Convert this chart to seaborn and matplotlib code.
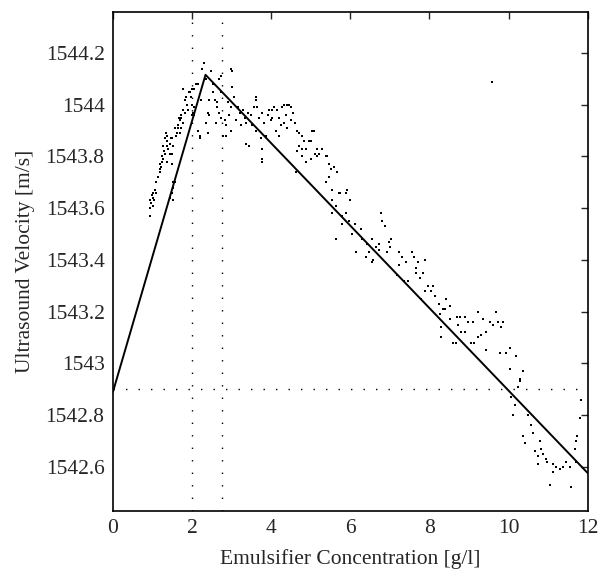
#!/usr/bin/env python

import numpy as np
import pandas as pd
import seaborn as sns
import matplotlib
matplotlib.use('Agg')
import matplotlib.pyplot as plt

rise_x = [0.93, 0.93, 0.94, 0.97, 0.98, 1.00, 1.00, 1.01, 1.03, 1.05, 1.10, 1.10, 1.13, 1.18, 1.18, 1.18,
          1.21, 1.23, 1.23, 1.26, 1.26, 1.29, 1.31, 1.31, 1.33, 1.36, 1.36, 1.36, 1.36, 1.39, 1.43, 1.43,
          1.43, 1.46, 1.48, 1.48, 1.48, 1.48, 1.51, 1.51, 1.51, 1.53, 1.56, 1.56, 1.59, 1.61, 1.64, 1.64,
          1.67, 1.69, 1.69, 1.73, 1.73, 1.73, 1.77, 1.77, 1.77, 1.81, 1.81, 1.85, 1.86, 1.89, 1.92, 1.94,
          1.97, 1.99, 1.99, 1.99, 2.03, 2.06, 2.06, 2.06, 2.11, 2.15, 2.15, 2.19, 2.19, 2.24, 2.22]
rise_y = [1543.57, 1543.60, 1543.63, 1543.62, 1543.65, 1543.64, 1543.61, 1543.66, 1543.63, 1543.67,
          1543.70, 1543.66, 1543.72, 1543.74, 1543.77, 1543.75, 1543.76, 1543.78, 1543.80, 1543.79,
          1543.84, 1543.82, 1543.81, 1543.87, 1543.89, 1543.78, 1543.84, 1543.86, 1543.88, 1543.83,
          1543.81, 1543.85, 1543.64, 1543.87, 1543.66, 1543.77, 1543.81, 1543.87, 1543.84, 1543.63,
          1543.68, 1543.70, 1543.70, 1543.91, 1543.88, 1543.89, 1543.91, 1543.92, 1543.95, 1543.94,
          1543.89, 1543.91, 1543.95, 1543.96, 1543.93, 1543.98, 1544.06, 1544.02, 1543.97, 1544.03,
          1544.00, 1543.98, 1544.05, 1544.05, 1544.03, 1544.06, 1544.00, 1543.96, 1543.97, 1544.06,
          1543.99, 1543.96, 1544.08, 1544.08, 1543.90, 1543.88, 1543.87, 1544.14, 1544.02]

peak_x = [2.31, 2.34, 2.36, 2.39, 2.39, 2.42, 2.44, 2.49, 2.52, 2.52, 2.57, 2.60, 2.62, 2.64, 2.69, 2.69,
          2.72, 2.74, 2.74, 2.77, 2.82, 2.86, 2.86, 2.90, 2.94, 2.99, 2.99, 2.99, 3.02, 3.02, 3.07, 3.12,
          3.15, 3.20, 3.24, 3.28, 3.33, 3.37, 3.37, 3.42, 3.45, 3.50, 3.52, 3.57, 3.62, 3.62, 3.62, 3.65,
          3.70, 3.75, 3.77, 3.77, 3.77, 3.77, 3.82, 3.87, 3.92, 3.95, 4.00, 4.03, 4.03, 4.08, 4.12, 4.15,
          4.20, 4.20, 4.25, 4.28, 4.33, 4.33, 4.37, 4.40, 4.40, 4.45, 4.50, 4.50, 4.55, 4.60, 4.63, 4.65,
          4.65, 4.70, 4.70, 9.58]
peak_y = [1544.16, 1544.10, 1543.93, 1543.97, 1543.89, 1544.02, 1543.96, 1544.13, 1544.05, 1544.08,
          1544.02, 1543.93, 1543.99, 1544.01, 1544.10, 1543.97, 1543.95, 1544.05, 1544.11, 1543.88,
          1543.94, 1543.92, 1543.88, 1544.01, 1543.96, 1543.99, 1543.90, 1544.14, 1544.07, 1544.13,
          1544.03, 1543.94, 1543.99, 1543.97, 1543.92, 1543.98, 1543.95, 1543.93, 1543.85, 1543.97,
          1543.84, 1543.96, 1543.92, 1543.99, 1544.02, 1544.03, 1543.90, 1543.99, 1543.95, 1543.87,
          1543.97, 1543.83, 1543.78, 1543.79, 1543.93, 1543.88, 1543.96, 1543.98, 1543.94, 1543.95,
          1543.98, 1543.99, 1543.90, 1543.98, 1543.95, 1543.88, 1543.92, 1543.99, 1544.00, 1543.93,
          1543.96, 1544.00, 1543.91, 1544.00, 1543.94, 1543.99, 1543.97, 1543.93, 1543.74, 1543.90,
          1543.82, 1543.89, 1543.84, 1544.09]

slope_x = [4.78, 4.78, 4.78, 4.83, 4.88, 4.88, 4.96, 5.00, 5.00, 5.03, 5.08, 5.12, 5.16, 5.16, 5.20, 5.29,
           5.38, 5.38, 5.41, 5.46, 5.46, 5.50, 5.54, 5.54, 5.54, 5.59, 5.63, 5.63, 5.66, 5.71, 5.75, 5.79,
           5.79, 5.88, 5.88, 5.91, 5.97, 6.00, 6.04, 6.13, 6.14, 6.26, 6.29, 6.39, 6.42, 6.47, 6.54, 6.54,
           6.58, 6.64, 6.72, 6.72, 6.77, 6.80, 6.89, 6.92, 6.97, 7.00, 7.04, 7.17, 7.22, 7.22, 7.30, 7.35,
           7.40, 7.47, 7.55, 7.60, 7.65, 7.65, 7.72, 7.77, 7.80, 7.85, 7.90, 7.90, 7.97, 8.05, 8.10, 8.15,
           8.23, 8.28, 8.30, 8.30, 8.35, 8.40, 8.43]
slope_y = [1543.88, 1543.80, 1543.83, 1543.86, 1543.83, 1543.78, 1543.86, 1543.79, 1543.86, 1543.90,
           1543.90, 1543.81, 1543.83, 1543.80, 1543.81, 1543.83, 1543.80, 1543.70, 1543.80, 1543.77,
           1543.72, 1543.75, 1543.67, 1543.63, 1543.58, 1543.76, 1543.61, 1543.48, 1543.74, 1543.66,
           1543.66, 1543.54, 1543.57, 1543.66, 1543.58, 1543.67, 1543.55, 1543.63, 1543.50, 1543.54,
           1543.43, 1543.52, 1543.48, 1543.41, 1543.46, 1543.43, 1543.48, 1543.39, 1543.40, 1543.45,
           1543.46, 1543.44, 1543.58, 1543.55, 1543.53, 1543.43, 1543.47, 1543.45, 1543.48, 1543.34,
           1543.43, 1543.38, 1543.41, 1543.32, 1543.39, 1543.32, 1543.43, 1543.41, 1543.35, 1543.37,
           1543.39, 1543.33, 1543.25, 1543.35, 1543.40, 1543.28, 1543.30, 1543.28, 1543.30, 1543.26,
           1543.23, 1543.19, 1543.14, 1543.10, 1543.21, 1543.21, 1543.25]

tail_x = [8.52, 8.53, 8.60, 8.67, 8.70, 8.73, 8.78, 8.80, 8.90, 8.90, 8.98, 9.06, 9.10, 9.14, 9.23, 9.23,
          9.30, 9.35, 9.43, 9.43, 9.53, 9.60, 9.69, 9.73, 9.78, 9.82, 9.86, 9.94, 10.03, 10.03, 10.07,
          10.11, 10.16, 10.20, 10.24, 10.29, 10.30, 10.36, 10.36, 10.42, 10.49, 10.57, 10.62, 10.67,
          10.74, 10.74, 10.79, 10.82, 10.87, 10.94, 10.97, 11.04, 11.12, 11.12, 11.20, 11.30, 11.37,
          11.45, 11.55, 11.58, 11.67, 11.70, 11.70, 11.72, 11.80, 11.83]
tail_y = [1543.22, 1543.17, 1543.08, 1543.08, 1543.18, 1543.15, 1543.18, 1543.12, 1543.18, 1543.12,
          1543.16, 1543.08, 1543.16, 1543.08, 1543.20, 1543.10, 1543.11, 1543.17, 1543.12, 1543.05,
          1543.16, 1543.15, 1543.20, 1543.16, 1543.04, 1543.14, 1543.16, 1543.04, 1543.06, 1542.98,
          1542.87, 1542.80, 1542.84, 1543.03, 1542.91, 1542.93, 1542.94, 1542.97, 1542.72, 1542.69,
          1542.80, 1542.76, 1542.73, 1542.66, 1542.64, 1542.61, 1542.70, 1542.67, 1542.65, 1542.63,
          1542.62, 1542.53, 1542.61, 1542.58, 1542.60, 1542.59, 1542.60, 1542.62, 1542.60, 1542.52,
          1542.67, 1542.70, 1542.62, 1542.72, 1542.79, 1542.86]

# Piecewise linear fit and guide lines
fit_x = [0, 2.34, 12]
fit_y = [1542.89, 1544.116, 1542.576]
guide_x = [2.0, 2.76]
guide_y = 1542.9

df = pd.DataFrame({
    'conc': rise_x + peak_x + slope_x + tail_x,
    'vel': rise_y + peak_y + slope_y + tail_y,
})
fit = pd.DataFrame({'conc': fit_x, 'vel': fit_y})

sns.set_style('white')
plt.rcParams['font.family'] = ['Liberation Serif', 'DejaVu Serif']
plt.rcParams['font.size'] = 15.5

fig, ax = plt.subplots(figsize=(5.99, 5.73), dpi=100)
fig.subplots_adjust(left=0.1886, right=0.981, bottom=0.1087, top=0.9796)

for gx in guide_x:
    ax.axvline(gx, color='black', lw=1.0, ls=(0, (1, 8)))
ax.axhline(guide_y, color='black', lw=1.0, ls=(0, (1, 8)))

sns.scatterplot(data=df, x='conc', y='vel', ax=ax, color='black', marker='s', s=4,
                linewidth=0, legend=False)
sns.lineplot(data=fit, x='conc', y='vel', ax=ax, color='black', lw=1.4)

ax.set_xlim(0, 12)
ax.set_ylim(1542.43, 1544.36)
ax.set_xticks(np.arange(0, 13, 2))
yt = np.round(np.arange(1542.6, 1544.21, 0.2), 1)
ax.set_yticks(yt)
ax.set_yticklabels([f'{v:g}' for v in yt])

ax.tick_params(direction='in', top=True, right=True, length=5, width=1, pad=6, labelsize=15.5)
for sp in ax.spines.values():
    sp.set_color('black')
    sp.set_linewidth(1.2)

ax.set_xlabel('Emulsifier Concentration [g/l]', fontsize=15.5, labelpad=8)
ax.set_ylabel('Ultrasound Velocity [m/s]', fontsize=15.5, labelpad=8)

plt.savefig('out.png', dpi=100)
